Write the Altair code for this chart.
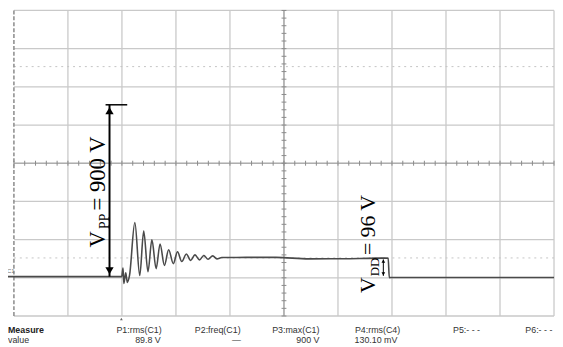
import altair as alt
import pandas as pd
import numpy as np

# ---- data (time in screen divisions, voltage in V; 200 V/div) ----
t_trace = [-0.11, 1.995, 2.02, 2.035, 2.07, 2.10, 2.14, 2.239, 2.330, 2.403, 2.482, 2.555,
           2.633, 2.706, 2.786, 2.865, 2.951, 3.029, 3.108, 3.193, 3.272, 3.352, 3.436,
           3.516, 3.595, 3.681, 3.759, 3.85, 3.94, 4.3, 4.85, 5.46, 6.08, 6.86, 6.93,
           6.95, 7.0, 10.0]
v_trace = [0, 0, 45, -36, 20, -30, 5, 284, 6, 239, 26, 193,
           42, 171, 59, 141, 68, 130, 79, 119, 85, 114, 88,
           111, 91, 109, 93, 100, 100, 101, 101, 93, 94, 97, 96,
           -5, -4, -4]

grid_t = list(range(0, 11))
grid_v = [-206 + 200 * k for k in range(9)]
cursor_v = [1100, 98]

vpp = 900
vdd = 96

meas_headers = ["P1:rms(C1)", "P2:freq(C1)", "P3:max(C1)", "P4:rms(C4)", "P5:- - -", "P6:- - -"]
meas_values = ["89.8 V", "—", "900 V", "130.10 mV", "", ""]
meas_hdr_t = [2.737, 4.197, 5.657, 7.153, 8.631, 9.97]
meas_val_t = [2.719, 4.2, 5.657, 7.10, 8.631, 9.97]

X = alt.Scale(domain=[0, 10])
Y = alt.Scale(domain=[-206, 1394])


def xe(f="t"):
    return alt.X(f"{f}:Q", scale=X, axis=None)


def ye(f="v"):
    return alt.Y(f"{f}:Q", scale=Y, axis=None)


W, H = 548, 310

# ---- grid ----
hgrid = alt.Chart(pd.DataFrame({"v": grid_v})).mark_rule(color="#c9c9c9", strokeWidth=1.3).encode(
    y=ye(), x=alt.value(0), x2=alt.value(W))
vgrid = alt.Chart(pd.DataFrame({"t": grid_t[1:]})).mark_rule(color="#c9c9c9", strokeWidth=1.3).encode(
    x=xe(), y=alt.value(0), y2=alt.value(H))
left_border = alt.Chart(pd.DataFrame({"t": [0]})).mark_rule(
    color="#8a8a8a", strokeWidth=1.5, strokeDash=[4, 2]).encode(x=xe(), y=alt.value(0), y2=alt.value(H))
center_h = alt.Chart(pd.DataFrame({"v": [594]})).mark_rule(color="#a0a0a0", strokeWidth=1.2).encode(
    y=ye(), x=alt.value(0), x2=alt.value(W))
center_v = alt.Chart(pd.DataFrame({"t": [5]})).mark_rule(color="#a0a0a0", strokeWidth=1.2).encode(
    x=xe(), y=alt.value(0), y2=alt.value(H))

tick_t = np.round(np.arange(0, 10.001, 0.2), 3)
ticks_h = alt.Chart(pd.DataFrame({"t": tick_t, "v1": 594 - 13, "v2": 594 + 13})).mark_rule(
    color="#8a8a8a", strokeWidth=1).encode(x=xe(), y=ye("v1"), y2="v2:Q")
tick_v = np.arange(-206, 1394.1, 40)
ticks_v = alt.Chart(pd.DataFrame({"v": tick_v, "t1": 4.955, "t2": 5.045})).mark_rule(
    color="#8a8a8a", strokeWidth=1).encode(y=ye(), x=xe("t1"), x2="t2:Q")

cursors = alt.Chart(pd.DataFrame({"v": cursor_v})).mark_rule(
    color="#c4c4c4", strokeWidth=1, strokeDash=[2, 4]).encode(y=ye(), x=alt.value(0), x2=alt.value(W))

# ---- trace ----
trace = alt.Chart(pd.DataFrame({"t": t_trace, "v": v_trace})).mark_line(
    color="#4a4a4a", strokeWidth=1.6, interpolate="monotone").encode(x=xe(), y=ye())

# ---- Vpp annotation ----
vpp_line = alt.Chart(pd.DataFrame({"t": [1.77], "v1": [0], "v2": [vpp]})).mark_rule(
    color="black", strokeWidth=2).encode(x=xe(), y=ye("v1"), y2="v2:Q")
vpp_cap = alt.Chart(pd.DataFrame({"t1": [1.697], "t2": [2.098], "v": [vpp]})).mark_rule(
    color="black", strokeWidth=1.5).encode(x=xe("t1"), x2="t2:Q", y=ye())
vpp_up = alt.Chart(pd.DataFrame({"t": [1.77], "v": [vpp]})).mark_point(
    shape="triangle-up", filled=True, color="black", size=70, opacity=1, yOffset=6).encode(x=xe(), y=ye())
vpp_dn = alt.Chart(pd.DataFrame({"t": [1.77], "v": [0]})).mark_point(
    shape="triangle-down", filled=True, color="black", size=70, opacity=1, yOffset=-6).encode(x=xe(), y=ye())

# ---- Vdd annotation ----
vdd_line = alt.Chart(pd.DataFrame({"t": [6.84], "v1": [4], "v2": [vdd - 6]})).mark_rule(
    color="black", strokeWidth=1).encode(x=xe(), y=ye("v1"), y2="v2:Q")
vdd_cap = alt.Chart(pd.DataFrame({"t1": [6.63], "t2": [6.93], "v": [vdd]})).mark_rule(
    color="#444444", strokeWidth=1).encode(x=xe("t1"), x2="t2:Q", y=ye())
vdd_up = alt.Chart(pd.DataFrame({"t": [6.84], "v": [vdd - 4]})).mark_point(
    shape="triangle-up", filled=True, color="black", size=14, opacity=1, yOffset=2).encode(x=xe(), y=ye())
vdd_dn = alt.Chart(pd.DataFrame({"t": [6.84], "v": [4]})).mark_point(
    shape="triangle-down", filled=True, color="black", size=14, opacity=1, yOffset=-2).encode(x=xe(), y=ye())

# ---- rotated labels ----
lab = pd.DataFrame({
    "label": ["V", "PP", "= 900 V", "V", "DD", "= 96 V"],
    "t": [1.55, 1.69, 1.55, 6.56, 6.68, 6.56],
    "v": [195, 290, 540, -45, 50, 270],
    "size": [23, 14, 23, 22, 13, 22],
})
labels = alt.Chart(lab).mark_text(angle=270, font="Liberation Serif", color="black",
                                  align="center", baseline="middle").encode(
    x=xe(), y=ye(), text="label:N", size=alt.Size("size:Q", scale=None, legend=None))

# ---- small screen markers ----
c1 = alt.Chart(pd.DataFrame({"t": [-0.06], "v": [30], "label": ["C1"]})).mark_text(
    fontSize=6, color="#777777", font="Liberation Sans", align="center", baseline="middle").encode(
    x=xe(), y=ye(), text="label:N")
trig = alt.Chart(pd.DataFrame({"t": [1.99], "v": [-222]})).mark_point(
    shape="triangle-up", filled=True, color="#666666", size=8, opacity=1).encode(x=xe(), y=ye())

# ---- measurement table ----
hdr = alt.Chart(pd.DataFrame({"t": meas_hdr_t, "v": -278, "label": meas_headers})).mark_text(
    fontSize=9, font="Liberation Sans", color="#333333", align="right", baseline="middle").encode(
    x=xe(), y=ye(), text="label:N")
vals = alt.Chart(pd.DataFrame({"t": meas_val_t, "v": -332, "label": meas_values})).mark_text(
    fontSize=9, font="Liberation Sans", color="#333333", align="right", baseline="middle").encode(
    x=xe(), y=ye(), text="label:N")
row_bold = alt.Chart(pd.DataFrame({"t": [-0.11], "v": [-278], "label": ["Measure"]})).mark_text(
    fontSize=9, font="Liberation Sans", fontWeight="bold", color="#222222", align="left",
    baseline="middle").encode(x=xe(), y=ye(), text="label:N")
row_val = alt.Chart(pd.DataFrame({"t": [-0.11], "v": [-332], "label": ["value"]})).mark_text(
    fontSize=9, font="Liberation Sans", color="#333333", align="left",
    baseline="middle").encode(x=xe(), y=ye(), text="label:N")

chart = alt.layer(
    hgrid, vgrid, cursors, center_h, center_v, ticks_h, ticks_v, left_border,
    trace, vpp_line, vpp_cap, vpp_up, vpp_dn, vdd_cap, vdd_line, vdd_up, vdd_dn,
    labels, c1, trig, hdr, vals, row_bold, row_val,
).properties(
    width=W, height=H,
    autosize=alt.AutoSizeParams(type="none"),
    padding={"left": 6, "top": 0, "right": 1, "bottom": 31},
    background="white",
).configure_view(strokeWidth=0)

chart.save("out.html", embed_options={"renderer": "svg", "actions": False})
